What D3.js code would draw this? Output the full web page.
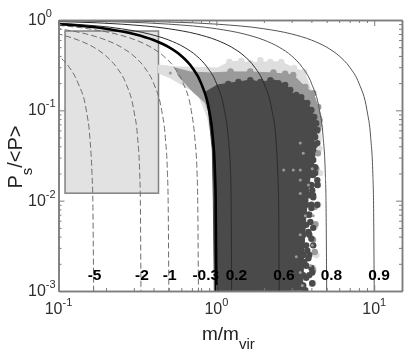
<!DOCTYPE html>
<html>
<head>
<meta charset="utf-8">
<script src="https://cdn.jsdelivr.net/npm/d3@7"></script>
<style>
  html, body { margin: 0; padding: 0; background: #fff; }
  svg { display: block; font-family: "Liberation Sans", Arial, sans-serif; filter: blur(0.35px); }
  .frame path, .frame line { stroke: #7d7d7d; }
  .frame path { stroke-width: 1.5; }
  .tick-label { fill: #2e2e2e; font-size: 16px; }
  .curve-label { fill: #000; font-size: 15.5px; font-weight: bold; }
  .axis-title { fill: #222; font-size: 19px; }
</style>
</head>
<body>
<div id="chart"></div>
<script>
const X_TICKS = [0.1, 1, 10];
const Y_TICKS = [1, 0.1, 0.01, 0.001];
const MINOR_STEPS = [2, 3, 4, 5, 6, 7, 8, 9];

// curves are read at the same P levels, null = off the left of the plot
const CURVE_P = [0.99, 0.95, 0.9, 0.8, 0.7, 0.6, 0.5, 0.4, 0.3, 0.2, 0.1, 0.05, 0.02, 0.01, 0.001];
const M_NEG5 = [null, null, null, null, null, 0.067, 0.083, 0.1, 0.117, 0.133, 0.15, 0.158, 0.163, 0.165, 0.167];
const M_NEG2 = [null, null, null, 0.066, 0.1, 0.133, 0.167, 0.2, 0.233, 0.267, 0.3, 0.317, 0.327, 0.33, 0.333];
const M_NEG1 = [null, null, 0.05, 0.1, 0.15, 0.2, 0.25, 0.3, 0.35, 0.4, 0.45, 0.475, 0.49, 0.495, 0.5];
const M_NEG03 = [null, null, 0.077, 0.154, 0.231, 0.308, 0.385, 0.462, 0.54, 0.616, 0.693, 0.73, 0.755, 0.762, 0.77];
const M_ZERO = [null, 0.05, 0.1, 0.2, 0.3, 0.4, 0.5, 0.6, 0.7, 0.8, 0.9, 0.95, 0.98, 0.99, 1];
const M_02 = [null, 0.0625, 0.125, 0.25, 0.375, 0.5, 0.625, 0.75, 0.875, 1, 1.125, 1.19, 1.23, 1.24, 1.25];
const M_06 = [0.025, 0.125, 0.25, 0.5, 0.75, 1, 1.25, 1.5, 1.75, 2, 2.25, 2.38, 2.45, 2.48, 2.5];
const M_08 = [0.05, 0.25, 0.5, 1, 1.5, 2, 2.5, 3, 3.5, 4, 4.5, 4.75, 4.9, 4.95, 5];
const M_09 = [0.1, 0.5, 1, 2, 3, 4, 5, 6, 7, 8, 9, 9.5, 9.8, 9.9, 10];

const DASHED_CURVES = [M_NEG5, M_NEG2, M_NEG1, M_NEG03];
const THIN_CURVES = [M_02, M_06, M_08, M_09];

const CURVE_LABELS = ["-5", "-2", "-1", "-0.3", "0.2", "0.6", "0.8", "0.9"];
const CURVE_LABEL_M = [0.167, 0.333, 0.5, 0.77, 1.25, 2.5, 5, 10];

// shaded box
const BOX_M = [0.11, 0.43];
const BOX_P = [0.755, 0.0121];

// outlines of the three point clouds
const LIGHT_M = [0.43, 0.558, 0.618, 1.015, 1.21, 1.44, 1.59, 1.9, 2.2, 2.58, 3.11, 3.6, 4, 4.49, 4.62, 4.4, 3.4, 0.971, 0.877, 0.827, 0.758, 0.655, 0.511, 0.43];
const LIGHT_P = [0.317, 0.302, 0.302, 0.294, 0.343, 0.351, 0.334, 0.343, 0.343, 0.343, 0.294, 0.266, 0.168, 0.0843, 0.047, 0.04, 0.047, 0.0364, 0.0843, 0.109, 0.155, 0.177, 0.228, 0.259];
const MID_M = [0.55, 0.685, 0.916, 1.23, 1.64, 2.3, 3.07, 3.66, 4.11, 4.42, 4.69, 4.49, 3.4, 0.971, 0.916, 0.852, 0.715, 0.575];
const MID_P = [0.294, 0.266, 0.259, 0.266, 0.266, 0.259, 0.246, 0.181, 0.155, 0.109, 0.078, 0.056, 0.047, 0.0364, 0.0843, 0.121, 0.159, 0.24];
const DARK_M = [0.852, 1.015, 1.38, 1.64, 1.9, 2.33, 2.77, 2.94, 3.45, 3.77, 4, 4.29, 4.36, 4.17, 4.05, 3.95, 3.8, 3.7, 3.6, 3.55, 3.5, 0.971, 0.957, 0.943, 0.89];
const DARK_P = [0.159, 0.191, 0.206, 0.216, 0.206, 0.216, 0.191, 0.159, 0.14, 0.121, 0.101, 0.072, 0.0605, 0.047, 0.0364, 0.0202, 0.0109, 0.007, 0.0032, 0.0016, 0.00102, 0.001, 0.0101, 0.0364, 0.101];

// single points sticking out of the clouds
const DARK_DOT_M = [1.19, 1.38, 1.64, 1.9, 2.2, 2.47, 2.73, 2.94, 3.21, 3.45, 3.77, 4, 4.17, 4.29, 4.36, 4.23, 4.36, 4.11, 4.05, 4.11, 4.23, 4.05, 4.23, 4.36, 4.36, 4.05, 4.11, 4.36, 4, 3.94, 4.11, 3.83, 4, 4.11, 3.77, 3.83, 3.6, 4, 4.05, 3.71, 4.05, 3.66, 3.5, 3.83, 3.66,
  3.71, 4.05, 3.88, 4.2, 3.71, 3.88, 3.88, 4, 3.55, 3.88, 4.1, 3.71, 4, 3.55, 3.88, 4.1, 3.71, 4, 3.55, 3.88, 3.4, 3.71, 3.55, 3.88, 3.4, 3.71, 3.55, 3.88, 3.4, 3.71, 3.55, 3.88, 3.3, 3.55];
const DARK_DOT_P = [0.196, 0.206, 0.216, 0.206, 0.216, 0.2, 0.191, 0.168, 0.148, 0.14, 0.121, 0.101, 0.0843, 0.072, 0.0605, 0.0506, 0.0434, 0.0364, 0.032, 0.0282, 0.0235, 0.0218, 0.0202, 0.0169, 0.0149, 0.013, 0.0109, 0.009, 0.0083, 0.0058, 0.005, 0.0045, 0.0038, 0.0032, 0.0028, 0.0023, 0.0021, 0.0018, 0.0016, 0.0014, 0.00122, 0.00102, 0.00115, 0.007, 0.0101,
  0.0532, 0.0532, 0.0413, 0.0413, 0.032, 0.032, 0.0248, 0.0248, 0.0192, 0.0192, 0.0192, 0.0149, 0.0149, 0.0115, 0.0115, 0.0115, 0.009, 0.009, 0.007, 0.007, 0.0054, 0.0054, 0.0042, 0.0042, 0.0032, 0.0032, 0.0025, 0.0025, 0.0019, 0.0019, 0.0015, 0.0015, 0.00115, 0.00115];
const MID_DOT_M = [0.511, 3.4, 3.55, 2.67, 3.07, 3.4, 3.4, 3.83, 3.4, 3.66, 3.4, 3.21, 3.4, 3.5, 4.05, 4.11, 4.05, 3.94];
const MID_DOT_P = [0.259, 0.0434, 0.0335, 0.0218, 0.0218, 0.0218, 0.0169, 0.0149, 0.012, 0.0068, 0.0042, 0.0024, 0.0016, 0.00115, 0.0225, 0.0068, 0.0032, 0.0019];
const LIGHT_DOT_M = [4.49, 4.55, 4.42, 4.23, 4.11, 4.11, 3.55, 3.55, 3.16, 1.21, 1.44, 1.64, 2.2, 2.58, 3.11, 3.6, 1.9, 4.55, 4.3];
const LIGHT_DOT_P = [0.0378, 0.0202, 0.009, 0.0052, 0.0018, 0.00122, 0.00115, 0.2, 0.217, 0.343, 0.351, 0.334, 0.343, 0.343, 0.294, 0.266, 0.36, 0.065, 0.0025];
const MID_EDGE_M = [1.23, 1.64, 2.3, 2.73, 3.07, 3.66, 4.11, 4.42, 4.49, 4.4, 4.3, 4.4, 4.2, 4.25, 4.1, 4.2, 4.1, 4.05];
const MID_EDGE_P = [0.27, 0.27, 0.262, 0.255, 0.246, 0.181, 0.155, 0.109, 0.078, 0.0335, 0.0225, 0.0149, 0.0085, 0.0055, 0.0037, 0.0027, 0.0017, 0.0012];

const width = 407;
const height = 354;
const plot = { left: 58.5, right: 402, top: 20, bottom: 291 };

const x = d3.scaleLog().domain([0.1, 15]).range([plot.left, plot.right]);
const y = d3.scaleLog().domain([0.001, 1]).range([plot.bottom, plot.top]);

const minorX = [0.1, 1, 10].flatMap((d) => MINOR_STEPS.map((s) => d * s)).filter((d) => d <= 15);
const minorY = [0.001, 0.01, 0.1].flatMap((d) => MINOR_STEPS.map((s) => d * s));

const svg = d3.select("#chart").append("svg").attr("width", width).attr("height", height);

svg
  .append("defs")
  .append("clipPath")
  .attr("id", "plot-clip")
  .append("rect")
  .attr("x", plot.left)
  .attr("y", plot.top)
  .attr("width", plot.right - plot.left)
  .attr("height", plot.bottom - plot.top);

const body = svg.append("g").attr("clip-path", "url(#plot-clip)");

function drawCloud(ms, ps, dotMs, dotPs, color, dotRadius) {
  const outline = d3.line().x((d) => x(d[0])).y((d) => y(d[1]));
  if (ms) {
    body.append("path").attr("d", outline(d3.zip(ms, ps)) + "Z").attr("fill", color).attr("stroke", color);
  }
  body
    .append("g")
    .selectAll("circle")
    .data(d3.zip(dotMs, dotPs))
    .join("circle")
    .attr("cx", (d) => x(d[0]))
    .attr("cy", (d) => y(d[1]))
    .attr("r", dotRadius)
    .attr("fill", color);
}

body
  .append("rect")
  .attr("x", x(BOX_M[0]))
  .attr("y", y(BOX_P[0]))
  .attr("width", x(BOX_M[1]) - x(BOX_M[0]))
  .attr("height", y(BOX_P[1]) - y(BOX_P[0]))
  .attr("fill", "#e2e2e2")
  .attr("stroke", "#828282")
  .attr("stroke-width", 1.5);

drawCloud(LIGHT_M, LIGHT_P, LIGHT_DOT_M, LIGHT_DOT_P, "#dedede", 3.2);
drawCloud(MID_M, MID_P, MID_EDGE_M, MID_EDGE_P, "#9a9a9a", 3.2);
drawCloud(DARK_M, DARK_P, DARK_DOT_M, DARK_DOT_P, "#4a4a4a", 3.2);
drawCloud(null, null, MID_DOT_M, MID_DOT_P, "#9a9a9a", 1.5);

const curveLine = d3
  .line()
  .defined((d) => d[0] !== null)
  .x((d) => x(d[0]))
  .y((d) => y(d[1]))
  .curve(d3.curveMonotoneX);

function drawCurve(ms, color, lineWidth, dash) {
  body
    .append("path")
    .attr("d", curveLine(d3.zip(ms, CURVE_P)))
    .attr("fill", "none")
    .attr("stroke", color)
    .attr("stroke-width", lineWidth)
    .attr("stroke-dasharray", dash);
}

DASHED_CURVES.forEach((ms) => drawCurve(ms, "#6e6e6e", 1, "6 3"));
THIN_CURVES.forEach((ms, i) => drawCurve(ms, i < 2 ? "#2b2b2b" : "#555", 1, null));
drawCurve(M_ZERO, "#000", 2.6, null);

function addPower(selection, sup) {
  selection.text(null);
  selection.append("tspan").text("10");
  selection.append("tspan").attr("dy", -8).attr("font-size", 11).text(sup);
}

const frames = [
  { axis: d3.axisBottom(x), pos: `translate(0,${plot.bottom})`, major: X_TICKS, minor: minorX },
  { axis: d3.axisTop(x), pos: `translate(0,${plot.top})`, major: X_TICKS, minor: minorX },
  { axis: d3.axisLeft(y), pos: `translate(${plot.left},0)`, major: Y_TICKS, minor: minorY },
  { axis: d3.axisRight(y), pos: `translate(${plot.right},0)`, major: Y_TICKS, minor: minorY },
];

frames.forEach((f) => {
  svg
    .append("g")
    .attr("class", "frame")
    .attr("transform", f.pos)
    .call(f.axis.tickValues(f.minor).tickSizeInner(-3).tickSizeOuter(0).tickFormat(""));
  svg
    .append("g")
    .attr("class", "frame")
    .attr("transform", f.pos)
    .call(f.axis.tickValues(f.major).tickSizeInner(-6).tickSizeOuter(0).tickFormat(""));
});

svg
  .append("g")
  .selectAll("text")
  .data(X_TICKS)
  .join("text")
  .attr("class", "tick-label")
  .attr("x", (d) => x(d))
  .attr("y", 314)
  .attr("text-anchor", "middle")
  .each(function (d) {
    addPower(d3.select(this), String(Math.round(Math.log10(d))));
  });

svg
  .append("g")
  .selectAll("text")
  .data(Y_TICKS)
  .join("text")
  .attr("class", "tick-label")
  .attr("x", 28)
  .attr("y", (d) => y(d) + 5)
  .each(function (d) {
    addPower(d3.select(this), String(Math.round(Math.log10(d))));
  });

svg
  .append("g")
  .selectAll("text")
  .data(CURVE_LABELS)
  .join("text")
  .attr("class", "curve-label")
  .attr("x", (d, i) => x(CURVE_LABEL_M[i]) - 6)
  .attr("y", 280)
  .text((d) => d);

const xTitle = svg.append("text").attr("class", "axis-title").attr("x", 202).attr("y", 340);
xTitle.append("tspan").text("m/m");
xTitle.append("tspan").attr("dy", 9).style("font-size", "15px").text("vir");

const yTitle = svg
  .append("text")
  .attr("class", "axis-title")
  .attr("text-anchor", "middle")
  .attr("transform", "translate(22,157) rotate(-90)");
yTitle.append("tspan").style("font-size", "20px").text("P");
yTitle.append("tspan").attr("dy", 10).style("font-size", "15px").text("s");
yTitle.append("tspan").attr("dy", -10).style("font-size", "20px").text("/<P>");
</script>
</body>
</html>
